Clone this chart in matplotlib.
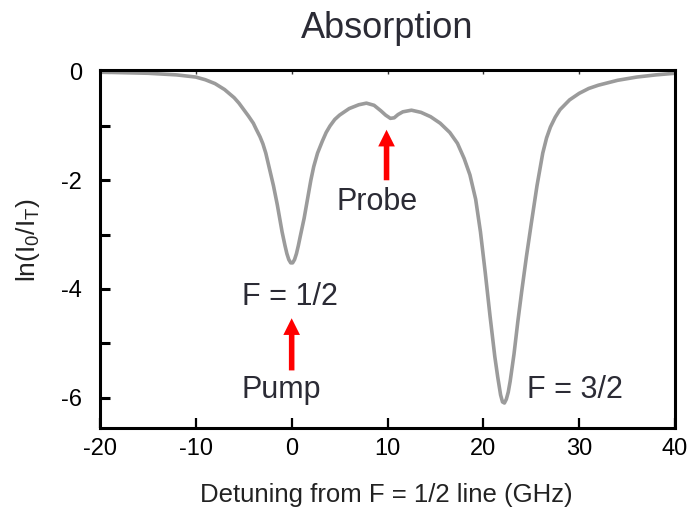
import matplotlib
matplotlib.use("Agg")
import matplotlib.pyplot as plt
from matplotlib.ticker import MultipleLocator

plt.rcParams['font.family'] = ['Liberation Sans', 'DejaVu Sans']
plt.rcParams['mathtext.default'] = 'regular'
plt.rcParams['axes.unicode_minus'] = False

# absorption trace (GHz, ln(I0/IT))
detuning = [-20, -15, -12, -10, -9, -8, -7, -6, -5.5, -5, -4.5, -4, -3.7, -3.3,
            -3.0, -2.7, -2.3, -1.9, -1.5, -1.2, -1.0, -0.7, -0.5, -0.3, -0.1,
            0.1, 0.3, 0.5, 0.7, 0.9, 1.3, 1.6, 2.0, 2.3, 2.7, 3.2, 3.6, 4.0,
            4.5, 5.0, 6.0, 7.0, 7.8, 8.6, 9.3, 9.8, 10.3, 10.7, 11.1, 11.6,
            12.5, 13.5, 14.5, 15.5, 16.5, 17.3, 18.0, 18.6, 19.2, 19.7, 20.2,
            20.7, 21.2, 21.5, 21.8, 22.0, 22.2, 22.4, 22.6, 22.8, 23.2, 23.6,
            24.0, 24.5, 25.0, 25.6, 26.2, 26.6, 27.0, 27.5, 28.0, 29.0, 30.0,
            31.0, 32.0, 34.0, 36.0, 38.0, 40.0]
absorption = [-0.01, -0.03, -0.06, -0.1, -0.15, -0.22, -0.33, -0.48, -0.58,
              -0.7, -0.82, -0.95, -1.06, -1.2, -1.33, -1.5, -1.8, -2.1, -2.45,
              -2.75, -2.95, -3.2, -3.35, -3.46, -3.52, -3.52, -3.46, -3.35,
              -3.2, -3.03, -2.7, -2.4, -2.0, -1.75, -1.5, -1.28, -1.12, -1.0,
              -0.88, -0.8, -0.68, -0.61, -0.58, -0.62, -0.72, -0.8, -0.86,
              -0.85, -0.79, -0.74, -0.71, -0.75, -0.83, -0.95, -1.12, -1.32,
              -1.6, -1.9, -2.35, -2.95, -3.7, -4.5, -5.25, -5.62, -5.95, -6.08,
              -6.1, -6.03, -5.9, -5.7, -5.2, -4.6, -4.05, -3.4, -2.8, -2.1,
              -1.5, -1.22, -1.02, -0.84, -0.7, -0.52, -0.4, -0.31, -0.25,
              -0.16, -0.1, -0.06, -0.03]

x_ticks = [-20, -10, 0, 10, 20, 30, 40]
x_top_ticks = [-10, 0, 10, 20, 30]
y_ticks = [0, -2, -4, -6]

text_color = '#2b2b35'

fig = plt.figure(figsize=(6.95, 5.12), dpi=100)
ax = fig.add_axes([100 / 695, 84 / 512, 575 / 695, 358 / 512])

ax.plot(detuning, absorption, color='#9b9b9b', lw=2.6,
        solid_capstyle='round', solid_joinstyle='round')

ax.set_xlim(-20, 40)
ax.set_ylim(-6.56, 0.03)

ax.set_xticks(x_ticks)
ax.set_yticks(y_ticks)
ax.yaxis.set_minor_locator(MultipleLocator(1))
ax.tick_params(axis='y', which='both', direction='in', length=7, width=2.2,
               pad=13, labelsize=17, right=False)
ax.tick_params(axis='x', direction='in', length=7, width=1.6, pad=7,
               labelsize=17, top=False)

for s in ax.spines.values():
    s.set_linewidth(2.2)

# small ticks along the top edge
top = ax.secondary_xaxis('top')
top.set_xticks(x_top_ticks)
top.set_xticklabels([])
top.tick_params(direction='in', length=3, width=1, color='#333333')
top.spines['top'].set_visible(False)

# labels on the peaks
ax.text(-0.2, -4.3, 'F = 1/2', ha='center', va='baseline', fontsize=22, color=text_color)
ax.text(8.9, -2.55, 'Probe', ha='center', va='baseline', fontsize=22, color=text_color)
ax.text(-1.1, -6.01, 'Pump', ha='center', va='baseline', fontsize=22, color=text_color)
ax.text(29.6, -6.01, 'F = 3/2', ha='center', va='baseline', fontsize=22, color=text_color)

arrow = dict(facecolor='red', edgecolor='none', width=4, headwidth=12,
             headlength=12, shrink=0)
ax.annotate('', xy=(9.9, -1.07), xytext=(9.9, -2.0), arrowprops=arrow)
ax.annotate('', xy=(0, -4.54), xytext=(0, -5.5), arrowprops=arrow)

fig.text(387 / 695, 1 - 38 / 512, 'Absorption', ha='center', va='baseline',
         fontsize=26, color=text_color)
fig.text(386 / 695, 1 - 502 / 512, 'Detuning from F = 1/2 line (GHz)',
         ha='center', va='baseline', fontsize=18.5, color='#222222')
fig.text(28 / 695, 1 - 240 / 512, r'ln(I$_0$/I$_T$)', ha='center', va='center',
         rotation=90, fontsize=19, color='#222222')

fig.savefig('out.png', dpi=100)
